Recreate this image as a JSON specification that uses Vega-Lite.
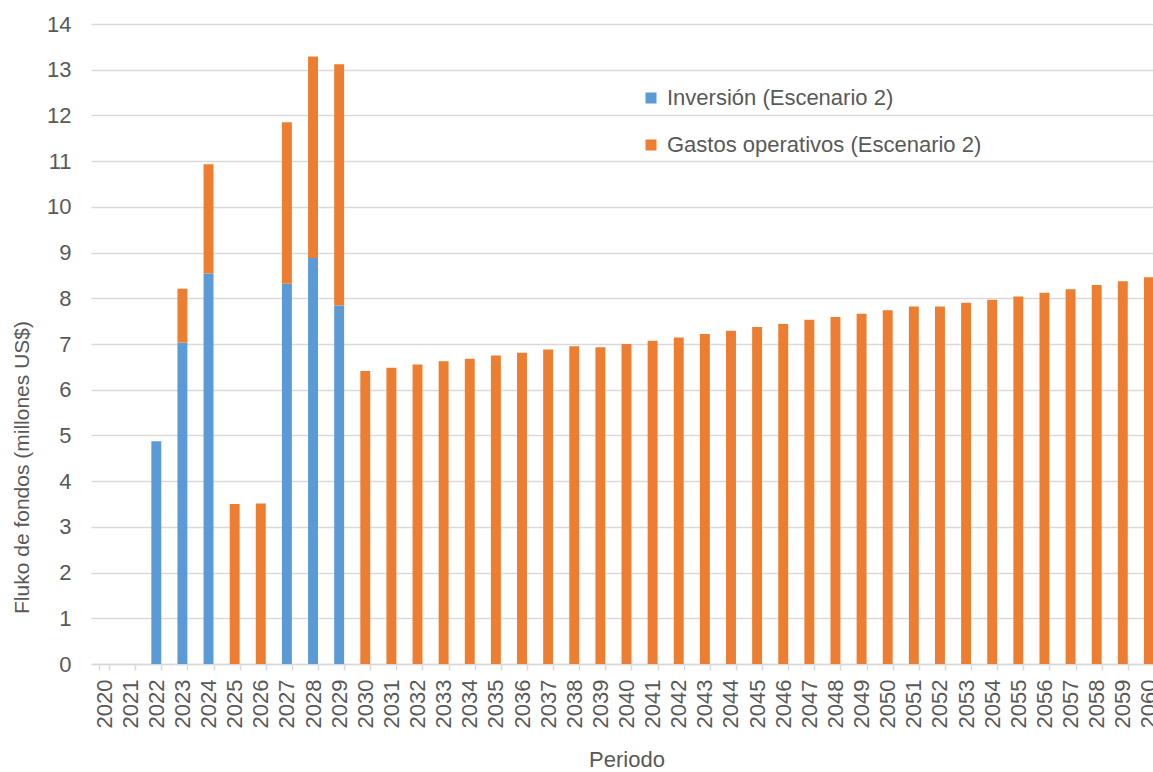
{
  "$schema": "https://vega.github.io/schema/vega-lite/v6.json",
  "autosize": "none",
  "width": 1071,
  "height": 640,
  "padding": {"left": 91, "top": 24, "right": 0, "bottom": 108},
  "background": "white",
  "config": {
    "font": "Liberation Sans",
    "view": {"stroke": null},
    "axis": {"labelColor": "#595959", "titleColor": "#595959", "labelFontSize": 22, "titleFontSize": 22, "titleFontWeight": "normal", "labelFont": "Liberation Sans", "titleFont": "Liberation Sans"}
  },
  "data": {
    "values": [
      {"year": "2020", "series": "Inversión (Escenario 2)", "value": 0},
      {"year": "2021", "series": "Inversión (Escenario 2)", "value": 0},
      {"year": "2022", "series": "Inversión (Escenario 2)", "value": 4.87},
      {"year": "2023", "series": "Inversión (Escenario 2)", "value": 7.03},
      {"year": "2023", "series": "Gastos operativos (Escenario 2)", "value": 1.18},
      {"year": "2024", "series": "Inversión (Escenario 2)", "value": 8.54},
      {"year": "2024", "series": "Gastos operativos (Escenario 2)", "value": 2.39},
      {"year": "2025", "series": "Gastos operativos (Escenario 2)", "value": 3.50},
      {"year": "2026", "series": "Gastos operativos (Escenario 2)", "value": 3.51},
      {"year": "2027", "series": "Inversión (Escenario 2)", "value": 8.32},
      {"year": "2027", "series": "Gastos operativos (Escenario 2)", "value": 3.53},
      {"year": "2028", "series": "Inversión (Escenario 2)", "value": 8.88},
      {"year": "2028", "series": "Gastos operativos (Escenario 2)", "value": 4.41},
      {"year": "2029", "series": "Inversión (Escenario 2)", "value": 7.84},
      {"year": "2029", "series": "Gastos operativos (Escenario 2)", "value": 5.28},
      {"year": "2030", "series": "Gastos operativos (Escenario 2)", "value": 6.41},
      {"year": "2031", "series": "Gastos operativos (Escenario 2)", "value": 6.48},
      {"year": "2032", "series": "Gastos operativos (Escenario 2)", "value": 6.55},
      {"year": "2033", "series": "Gastos operativos (Escenario 2)", "value": 6.62},
      {"year": "2034", "series": "Gastos operativos (Escenario 2)", "value": 6.68},
      {"year": "2035", "series": "Gastos operativos (Escenario 2)", "value": 6.75},
      {"year": "2036", "series": "Gastos operativos (Escenario 2)", "value": 6.81},
      {"year": "2037", "series": "Gastos operativos (Escenario 2)", "value": 6.88},
      {"year": "2038", "series": "Gastos operativos (Escenario 2)", "value": 6.95},
      {"year": "2039", "series": "Gastos operativos (Escenario 2)", "value": 6.93},
      {"year": "2040", "series": "Gastos operativos (Escenario 2)", "value": 7.00},
      {"year": "2041", "series": "Gastos operativos (Escenario 2)", "value": 7.07},
      {"year": "2042", "series": "Gastos operativos (Escenario 2)", "value": 7.14},
      {"year": "2043", "series": "Gastos operativos (Escenario 2)", "value": 7.22},
      {"year": "2044", "series": "Gastos operativos (Escenario 2)", "value": 7.29},
      {"year": "2045", "series": "Gastos operativos (Escenario 2)", "value": 7.37},
      {"year": "2046", "series": "Gastos operativos (Escenario 2)", "value": 7.44},
      {"year": "2047", "series": "Gastos operativos (Escenario 2)", "value": 7.53},
      {"year": "2048", "series": "Gastos operativos (Escenario 2)", "value": 7.59},
      {"year": "2049", "series": "Gastos operativos (Escenario 2)", "value": 7.66},
      {"year": "2050", "series": "Gastos operativos (Escenario 2)", "value": 7.74},
      {"year": "2051", "series": "Gastos operativos (Escenario 2)", "value": 7.82},
      {"year": "2052", "series": "Gastos operativos (Escenario 2)", "value": 7.82},
      {"year": "2053", "series": "Gastos operativos (Escenario 2)", "value": 7.90},
      {"year": "2054", "series": "Gastos operativos (Escenario 2)", "value": 7.97},
      {"year": "2055", "series": "Gastos operativos (Escenario 2)", "value": 8.04},
      {"year": "2056", "series": "Gastos operativos (Escenario 2)", "value": 8.12},
      {"year": "2057", "series": "Gastos operativos (Escenario 2)", "value": 8.20},
      {"year": "2058", "series": "Gastos operativos (Escenario 2)", "value": 8.29},
      {"year": "2059", "series": "Gastos operativos (Escenario 2)", "value": 8.37},
      {"year": "2060", "series": "Gastos operativos (Escenario 2)", "value": 8.46}
    ]
  },
  "mark": {"type": "bar"},
  "encoding": {
    "x": {
      "field": "year",
      "type": "ordinal",
      "scale": {"paddingInner": 0.62, "paddingOuter": 0.31},
      "axis": {
        "title": "Periodo",
        "labelAngle": -90,
        "labelAlign": "right",
        "labelBaseline": "middle",
        "labelPadding": 9,
        "tickBand": "extent",
        "tickSize": 6,
        "tickColor": "#D9D9D9",
        "tickWidth": 1.5,
        "domainColor": "#D9D9D9",
        "domainWidth": 1.5,
        "grid": false,
        "titleY": 95,
        "titleBaseline": "middle"
      }
    },
    "y": {
      "field": "value",
      "type": "quantitative",
      "stack": "zero",
      "scale": {"domain": [0, 14], "nice": false},
      "axis": {
        "title": "Fluko de fondos (millones US$)",
        "titleFontSize": 21,
        "values": [0,1,2,3,4,5,6,7,8,9,10,11,12,13,14],
        "domain": false,
        "ticks": false,
        "labelPadding": 20,
        "gridColor": "#D9D9D9",
        "gridWidth": 1.5,
        "titleX": -69,
        "titleY": 443,
        "titleAlign": "center",
        "titleBaseline": "middle",
        "titleAngle": -90
      }
    },
    "color": {
      "field": "series",
      "type": "nominal",
      "scale": {
        "domain": ["Inversión (Escenario 2)", "Gastos operativos (Escenario 2)"],
        "range": ["#5B9BD5", "#ED7D31"]
      },
      "legend": {
        "title": null,
        "orient": "none",
        "legendX": 549,
        "legendY": 63,
        "symbolType": "square",
        "symbolSize": 121,
        "symbolStrokeWidth": 0,
        "labelFontSize": 22,
        "labelColor": "#595959",
        "labelFont": "Liberation Sans",
        "labelLimit": 0,
        "labelOffset": 5,
        "rowPadding": 25,
        "padding": 0
      }
    },
    "order": {"field": "series", "sort": "descending"}
  }
}
